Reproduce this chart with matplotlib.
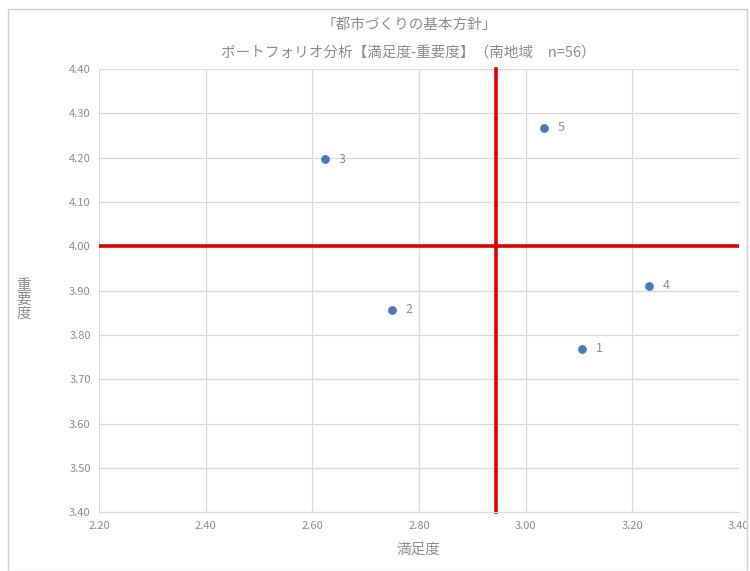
import matplotlib.pyplot as plt
from matplotlib.patches import Rectangle

plt.rcParams['font.family'] = ['Noto Sans CJK JP', 'DejaVu Sans']

labels = ['1', '2', '3', '4', '5']
satisfaction = [3.106, 2.749, 2.624, 3.231, 3.035]
importance = [3.769, 3.857, 4.197, 3.911, 4.268]
x_ticks = [2.20, 2.40, 2.60, 2.80, 3.00, 3.20, 3.40]
y_ticks = [3.40, 3.50, 3.60, 3.70, 3.80, 3.90, 4.00, 4.10, 4.20, 4.30, 4.40]
x_mid = 2.945
y_mid = 4.00

gray = '#8c8c8c'

fig = plt.figure(figsize=(7.5, 5.71), dpi=100)
ax = fig.add_axes([0.132, 0.103, 0.853, 0.776])

ax.scatter(satisfaction, importance, s=28, color='#4a78b8', zorder=3)
for lab, x, y in zip(labels, satisfaction, importance):
    ax.annotate(lab, (x, y), xytext=(10, 0), textcoords='offset points',
                va='center', ha='left', fontsize=9, color=gray)

ax.axvline(x_mid, color='#e00000', lw=2.6, zorder=2, clip_on=False)
ax.axhline(y_mid, color='#e00000', lw=2.6, zorder=2)

ax.set_xlim(2.20, 3.40)
ax.set_ylim(3.40, 4.40)
ax.set_xticks(x_ticks)
ax.set_yticks(y_ticks)
ax.set_xticklabels(['%.2f' % v for v in x_ticks])
ax.set_yticklabels(['%.2f' % v for v in y_ticks])
ax.tick_params(length=0, labelsize=8, colors=gray, pad=6)
ax.grid(True, color='#d9d9d9', lw=0.9)
ax.set_axisbelow(True)
for side in ['top', 'right', 'left']:
    ax.spines[side].set_visible(False)
ax.spines['bottom'].set_color('#d9d9d9')

ax.set_xlabel('満足度', fontsize=10.5, color=gray, labelpad=9)
fig.text(0.032, 0.475, '重\n要\n度', fontsize=10.5, color=gray,
         ha='center', va='center', linespacing=1.0)

fig.text(0.545, 0.956, '「都市づくりの基本方針」', fontsize=10.5, color=gray,
         ha='center', va='center')
fig.text(0.545, 0.906, 'ポートフォリオ分析【満足度-重要度】（南地域　n=56）',
         fontsize=10.5, color=gray, ha='center', va='center')

fig.patches.append(Rectangle((0.011, 0.0), 0.985, 0.985, transform=fig.transFigure,
                             fill=False, edgecolor='#d0d0d0', lw=1))

fig.savefig('out.png', dpi=100)
